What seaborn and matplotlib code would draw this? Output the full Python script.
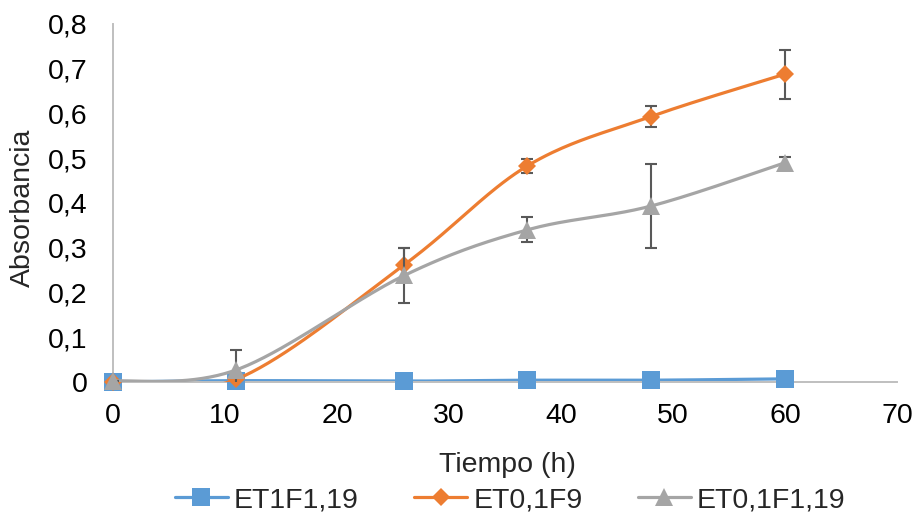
import numpy as np
import pandas as pd
import matplotlib
matplotlib.use("Agg")
import matplotlib.pyplot as plt
from matplotlib.lines import Line2D
from matplotlib.ticker import FuncFormatter, MultipleLocator
import seaborn as sns

# ---- data ----
tiempo = [0, 11, 26, 37, 48, 60]
series_names = ["ET1F1,19", "ET0,1F9", "ET0,1F1,19"]
et1f1_19 = [0.000, 0.003, 0.002, 0.004, 0.004, 0.007]
et01f9 = [0.000, 0.006, 0.262, 0.483, 0.593, 0.688]
et01f1_19 = [0.002, 0.027, 0.238, 0.340, 0.393, 0.490]
err_et1f1_19 = [0.0, 0.0, 0.0, 0.0, 0.0, 0.0]
err_et01f9 = [0.0, 0.0, 0.038, 0.015, 0.023, 0.055]
err_et01f1_19 = [0.0, 0.045, 0.062, 0.028, 0.094, 0.012]

colors = ["#5B9BD5", "#ED7D31", "#A5A5A5"]
markers = ["s", "D", "^"]
msizes = [12.8, 9.0, 13.5]
FS = 20.5

sns.set_theme(style="white")
plt.rcParams["font.family"] = ["Liberation Sans", "DejaVu Sans"]


def excel_smooth(x, y, n=40):
    """Bezier smoothing through the data points (Catmull-Rom style, like Excel)."""
    x = np.asarray(x, float)
    y = np.asarray(y, float)
    P = np.column_stack([x, y])
    m = len(P)
    out = []
    for i in range(m - 1):
        p0 = P[i - 1] if i > 0 else P[i]
        p1 = P[i]
        p2 = P[i + 1]
        p3 = P[i + 2] if i + 2 < m else P[i + 1]
        c1 = p1 + (p2 - p0) / 6.0
        c2 = p2 - (p3 - p1) / 6.0
        t = np.linspace(0, 1, n)[:, None]
        seg = ((1 - t) ** 3) * p1 + 3 * ((1 - t) ** 2) * t * c1 + 3 * (1 - t) * t ** 2 * c2 + t ** 3 * p2
        if i > 0:
            seg = seg[1:]
        out.append(seg)
    out = np.vstack(out)
    return out[:, 0], out[:, 1]


fig = plt.figure(figsize=(9.21, 5.16), dpi=100)
ax = fig.add_axes([0.1227, 0.2597, 0.8513, 0.6938])

all_y = [et1f1_19, et01f9, et01f1_19]
all_err = [err_et1f1_19, err_et01f9, err_et01f1_19]

for k, (name, ys, es) in enumerate(zip(series_names, all_y, all_err)):
    sx, sy = excel_smooth(tiempo, ys)
    df_line = pd.DataFrame({"x": sx, "y": sy})
    sns.lineplot(data=df_line, x="x", y="y", sort=False, ax=ax, color=colors[k],
                 linewidth=2.3, zorder=2 + k * 3, legend=False, estimator=None)
    ax.errorbar(tiempo, ys, yerr=es, fmt="none", ecolor="#595959", elinewidth=1.5,
                capsize=4.6, capthick=1.5, zorder=3 + k * 3)
    ax.plot(tiempo, ys, linestyle="none", marker=markers[k], markersize=msizes[k],
            color=colors[k], markeredgewidth=0, zorder=4 + k * 3, clip_on=False)

ax.set_xlim(0, 70)
ax.set_ylim(0, 0.8)
ax.xaxis.set_major_locator(MultipleLocator(10))
ax.yaxis.set_major_locator(MultipleLocator(0.1))
ax.yaxis.set_major_formatter(FuncFormatter(
    lambda v, p: "0" if abs(v) < 1e-9 else f"{v:.1f}".replace(".", ",")))
ax.tick_params(axis="both", length=0, labelsize=FS, colors="black")
ax.tick_params(axis="x", pad=15)
ax.tick_params(axis="y", pad=18.5)

for s in ["top", "right"]:
    ax.spines[s].set_visible(False)
for s in ["left", "bottom"]:
    ax.spines[s].set_color("#BFBFBF")
    ax.spines[s].set_linewidth(1.4)

ax.set_xlabel("")
ax.set_ylabel("")
fig.text(0.5505, 0.099, "Tiempo (h)", fontsize=FS, ha="center", va="center")
fig.text(0.025, 0.597, "Absorbancia", fontsize=FS, ha="center", va="center", rotation=90)

handles = [Line2D([0], [0], color=colors[k], marker=markers[k], markersize=msizes[k],
                  linewidth=2.3, markeredgewidth=0) for k in range(3)]
fig.legend(handles, series_names, loc="center", bbox_to_anchor=(0.554, 0.031), ncol=3,
           frameon=False, fontsize=FS, handlelength=1.86, columnspacing=1.95,
           handletextpad=0.21, borderpad=0.0)

fig.savefig("out.png", dpi=100)
